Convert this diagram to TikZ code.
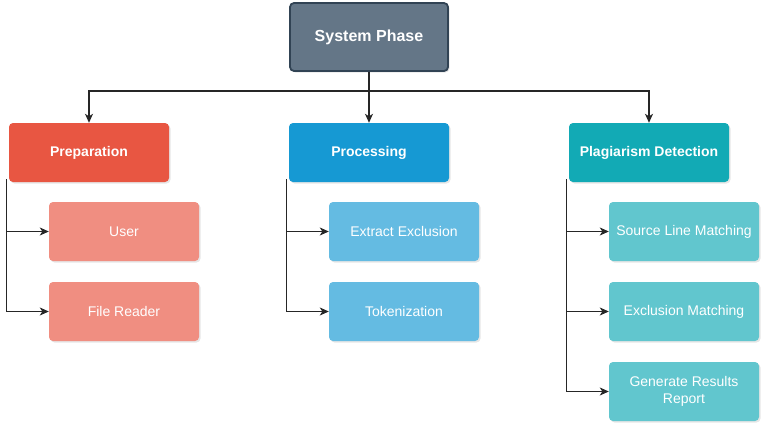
\documentclass[tikz,border=0pt]{standalone}
\usepackage{fontspec}
\setmainfont{Liberation Sans}
\usetikzlibrary{arrows.meta,shadows}
\definecolor{topfill}{HTML}{647687}
\definecolor{topline}{HTML}{314354}
\definecolor{prepc}{HTML}{E85642}
\definecolor{procc}{HTML}{1699D3}
\definecolor{plagc}{HTML}{12AAB5}
\definecolor{prepl}{HTML}{F08E81}
\definecolor{procl}{HTML}{64BBE2}
\definecolor{plagl}{HTML}{61C6CE}
\tikzset{
  box/.style={rectangle, rounded corners=4pt, text=white, align=center,
    drop shadow={shadow xshift=1.5pt, shadow yshift=-1.5pt, opacity=0.2}},
  topbox/.style={box, fill=topfill, draw=topline, line width=1.8pt,
    minimum width=158pt, minimum height=68pt, font=\fontsize{16}{19}\selectfont\bfseries},
  phasebox/.style={box, minimum width=160pt, minimum height=59pt,
    font=\fontsize{14}{17}\selectfont\bfseries},
  childbox/.style={box, minimum width=150pt, minimum height=59pt,
    font=\fontsize{14}{17}\selectfont},
  arr/.style={draw=black!85, line width=1.1pt, -{Stealth[length=9pt,width=8pt,inset=2.5pt]}}
}
\begin{document}
\begin{tikzpicture}[x=1pt,y=-1pt]
\useasboundingbox (0,0) rectangle (772,434);
\node[topbox] (top) at (369,37) {System Phase};
\node[phasebox, fill=prepc] (prep) at (89,152.5) {Preparation};
\node[phasebox, fill=procc] (proc) at (369,152.5) {Processing};
\node[phasebox, fill=plagc] (plag) at (649,152.5) {Plagiarism Detection};
\node[childbox, fill=prepl] (user) at (124,231.5) {User};
\node[childbox, fill=prepl] (reader) at (124,311.5) {File Reader};
\node[childbox, fill=procl] (extract) at (404,231.5) {Extract Exclusion};
\node[childbox, fill=procl] (token) at (404,311.5) {Tokenization};
\node[childbox, fill=plagl] (source) at (684,231.5) {Source Line Matching};
\node[childbox, fill=plagl] (excl) at (684,311.5) {Exclusion Matching};
\node[childbox, fill=plagl] (report) at (684,391.5) {Generate Results\\Report};
\coordinate (bus) at (369,91);
\draw[arr] (top.south) -- (bus) -| (prep.north);
\draw[arr] (top.south) -- (proc.north);
\draw[arr] (bus) -| (plag.north);
\draw[arr] ([xshift=-2pt,yshift=3pt]prep.south west) |- (user.west);
\draw[arr] ([xshift=-2pt,yshift=3pt]prep.south west) |- (reader.west);
\draw[arr] ([xshift=-2pt,yshift=3pt]proc.south west) |- (extract.west);
\draw[arr] ([xshift=-2pt,yshift=3pt]proc.south west) |- (token.west);
\draw[arr] ([xshift=-2pt,yshift=3pt]plag.south west) |- (source.west);
\draw[arr] ([xshift=-2pt,yshift=3pt]plag.south west) |- (excl.west);
\draw[arr] ([xshift=-2pt,yshift=3pt]plag.south west) |- (report.west);
\end{tikzpicture}
\end{document}
